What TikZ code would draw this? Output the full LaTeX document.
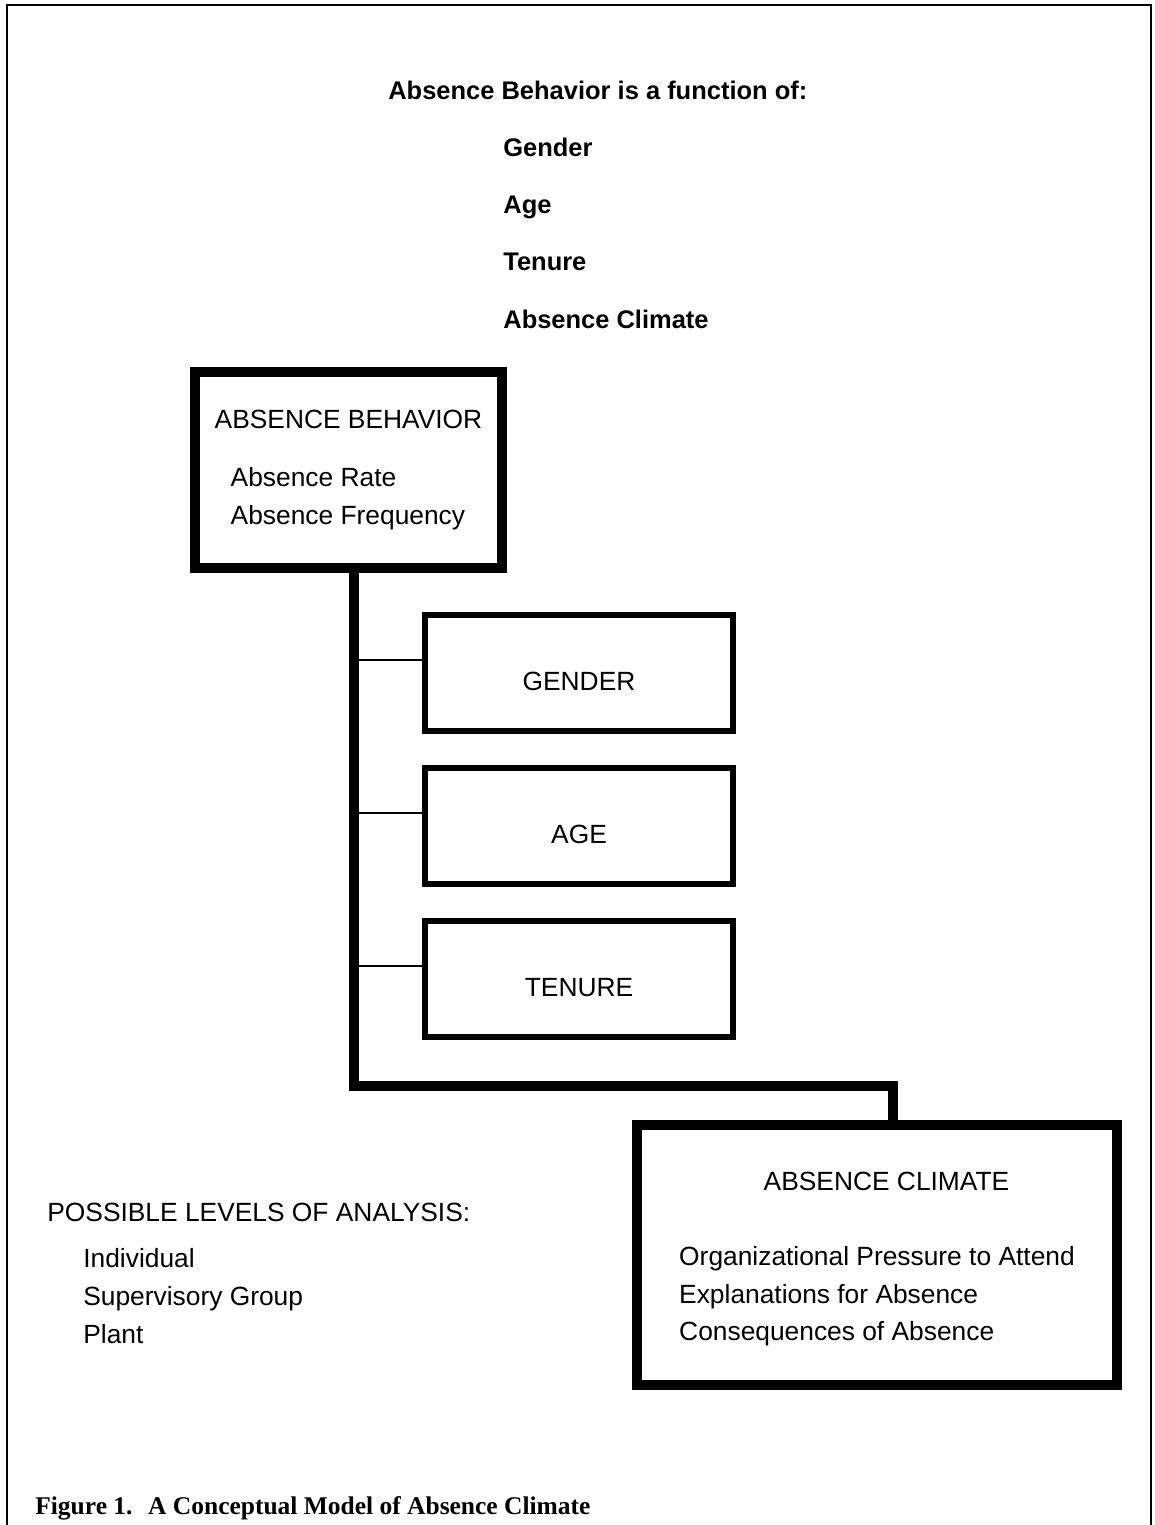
\documentclass[tikz,border=0pt]{standalone}
\usepackage{fontspec}
\setmainfont{Liberation Sans}
\newfontfamily\captionfont{Liberation Serif}
\usetikzlibrary{positioning}

\begin{document}
\begin{tikzpicture}[
  x=0.02cm, y=-0.02cm,
  every node/.style={font=\fontsize{15}{21.5}\selectfont, inner sep=0pt},
  headline/.style={anchor=base west, font=\fontsize{14.5}{17}\selectfont\bfseries},
  bigbox/.style={rectangle, draw, line width=5.7pt, align=left},
  factorbox/.style={rectangle, draw, line width=3.4pt,
                    minimum width=6.16cm, minimum height=2.32cm,
                    text height=0.7cm, text depth=0pt},
  trunk/.style={line width=5.7pt},
  branch/.style={line width=1.2pt},
  frame/.style={line width=1.6pt},
  figcap/.style={anchor=base west, font=\captionfont\bfseries\fontsize{14.5}{17}\selectfont}
]
\useasboundingbox (0,0) rectangle (1154,1525);
\draw[frame] (7,1525) |- (1151,5) -- (1151,1525);

\node[headline] (fn) at (388,99) {Absence Behavior is a function of:};
\node[headline] (fgender) at (503,156) {Gender};
\node[headline] (fage) at (503,213) {Age};
\node[headline] (ftenure) at (503,270) {Tenure};
\node[headline] (fclimate) at (503,328) {Absence Climate};

\node[bigbox, minimum width=6.14cm, minimum height=3.92cm] (behav) at (348.5,470)
  {ABSENCE BEHAVIOR\\[0.4cm]
   \hspace*{0.32cm}Absence Rate\\
   \hspace*{0.32cm}Absence Frequency};

\node[factorbox] (gender) at (579,673) {GENDER};
\node[factorbox, below=0.62cm of gender] (age) {AGE};
\node[factorbox, below=0.62cm of age] (tenure) {TENURE};

\node[bigbox, minimum width=9.6cm, minimum height=5.2cm] (aclim) at (877,1255)
  {\rule{0pt}{0.54cm}\hspace*{1.69cm}ABSENCE CLIMATE\\[0.74cm]
   Organizational Pressure to Attend\\
   Explanations for Absence\\
   Consequences of Absence};

\node[align=left, anchor=north west] (levels) at (47,1203)
  {POSSIBLE LEVELS OF ANALYSIS:\\[0.16cm]
   \hspace*{0.72cm}Individual\\
   \hspace*{0.72cm}Supervisory Group\\
   \hspace*{0.72cm}Plant};

\coordinate (bend) at (354,1086);
\draw[trunk] (behav.south -| bend) -- (bend) -| ([xshift=0.32cm]aclim.north);
\foreach \f in {gender,age,tenure}{
  \coordinate (\f-in) at ([yshift=0.26cm]\f.west);
  \draw[branch] (\f-in) -- (\f-in -| bend);
}

\node[figcap] (fig) at (35,1514) {Figure 1.};
\node[figcap] (figtitle) at ([xshift=0.3cm]fig.base east) {A Conceptual Model of Absence Climate};
\end{tikzpicture}
\end{document}
